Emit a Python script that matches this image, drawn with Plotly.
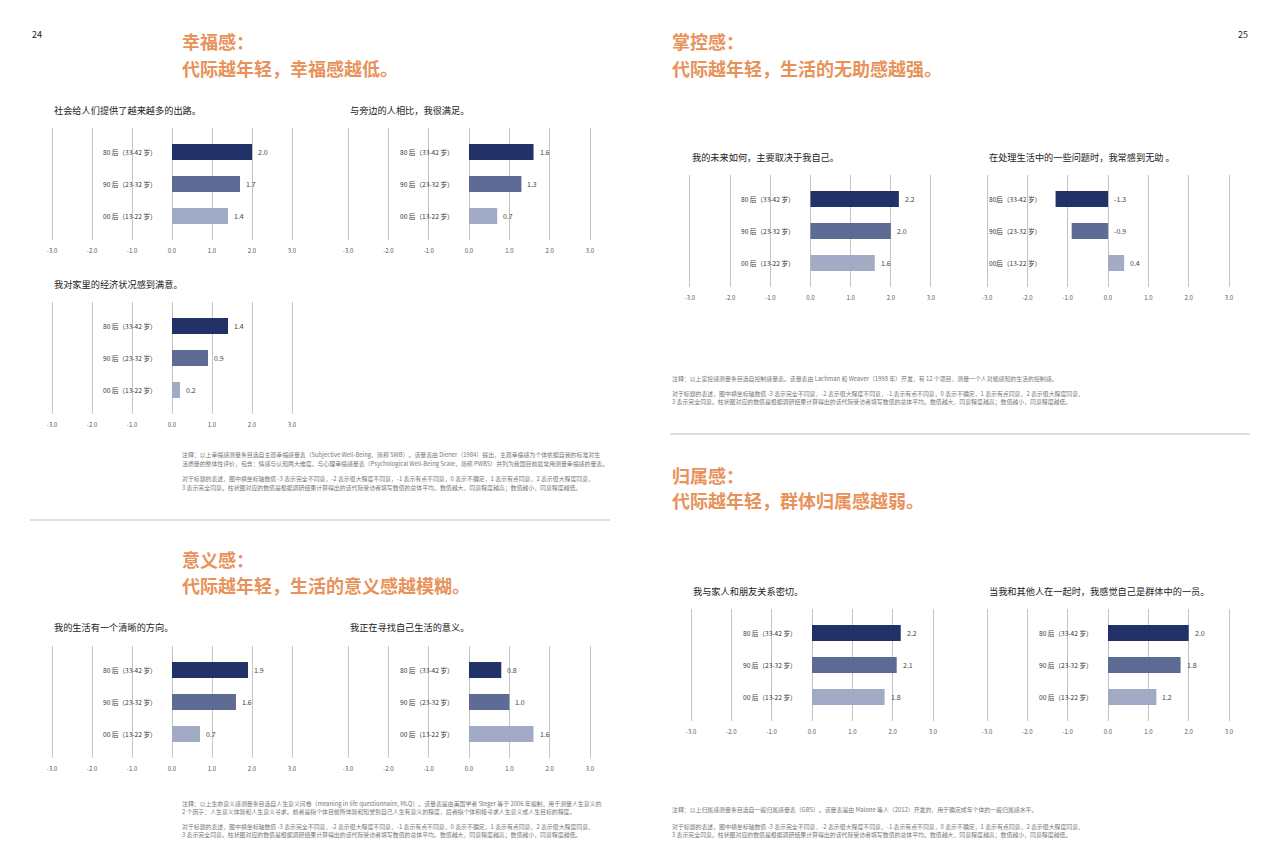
import plotly.graph_objects as go

# ---------------- data ----------------
categories = ["80 后（33-42 岁）", "90 后（23-32 岁）", "00 后（13-22 岁）"]
categories_g = ["80后（33-42 岁）", "90后（23-32 岁）", "00后（13-22 岁）"]

q_more_outlets = [2.0, 1.7, 1.4]
q_satisfied_vs_others = [1.6, 1.3, 0.7]
q_family_finance = [1.4, 0.9, 0.2]
q_clear_direction = [1.9, 1.6, 0.7]
q_seeking_meaning = [0.8, 1.0, 1.6]
q_future_depends_on_me = [2.2, 2.0, 1.6]
q_feel_helpless = [-1.3, -0.9, 0.4]
q_close_family_friends = [2.2, 2.1, 1.8]
q_group_member = [2.0, 1.8, 1.2]

tick_values = [-3, -2, -1, 0, 1, 2, 3]
tick_labels = ["-3.0", "-2.0", "-1.0", "0.0", "1.0", "2.0", "3.0"]

bar_colors = ["#17275f", "#56648f", "#9ea7c2"]

# page body has an 8px margin in the browser; figure is sized to fit the window
OFF = 8
W, H = 1280 - OFF, 868 - OFF
FONT = "Noto Sans CJK SC"
ORANGE = "#e8925a"


def fx(p):
    return (p - OFF) / W


def fy(p):
    return 1 - (p - OFF) / H


panels = [
    dict(title="社会给人们提供了越来越多的出路。", values=q_more_outlets, cats=categories,
         x0=52, x3=292, top=128, bottom=240, ty=110, lab="zero"),
    dict(title="与旁边的人相比，我很满足。", values=q_satisfied_vs_others, cats=categories,
         x0=348, x3=590, top=128, bottom=240, ty=110, lab="zero"),
    dict(title="我对家里的经济状况感到满意。", values=q_family_finance, cats=categories,
         x0=52, x3=292, top=302, bottom=414, ty=284, lab="zero"),
    dict(title="我的生活有一个清晰的方向。", values=q_clear_direction, cats=categories,
         x0=52, x3=292, top=646, bottom=758, ty=627, lab="zero"),
    dict(title="我正在寻找自己生活的意义。", values=q_seeking_meaning, cats=categories,
         x0=348, x3=590, top=646, bottom=758, ty=627, lab="zero"),
    dict(title="我的未来如何，主要取决于我自己。", values=q_future_depends_on_me, cats=categories,
         x0=690, x3=931, top=175, bottom=287, ty=157, lab="zero"),
    dict(title="在处理生活中的一些问题时，我常感到无助 。", values=q_feel_helpless, cats=categories_g,
         x0=987, x3=1229, top=175, bottom=287, ty=157, lab="left"),
    dict(title="我与家人和朋友关系密切。", values=q_close_family_friends, cats=categories,
         x0=691, x3=933, top=609, bottom=721, ty=591, lab="zero"),
    dict(title="当我和其他人在一起时，我感觉自己是群体中的一员。", values=q_group_member, cats=categories,
         x0=987, x3=1229, top=609, bottom=721, ty=591, lab="zero"),
]

fig = go.Figure()
annotations = []
shapes = []
layout_axes = {}

PAD = 0.15
for i, p in enumerate(panels):
    n = i + 1
    xs = "" if n == 1 else str(n)
    u = (p["x3"] - p["x0"]) / 6.0
    dom_x = [fx(p["x0"] - PAD * u), fx(p["x3"] + PAD * u)]
    dom_y = [fy(p["bottom"]), fy(p["top"])]
    ypos = list(range(len(p["cats"])))
    fig.add_trace(go.Bar(
        x=p["values"], y=ypos, orientation="h",
        marker=dict(color=bar_colors, line=dict(width=0)),
        opacity=0.95, width=0.5, hoverinfo="skip", showlegend=False,
        xaxis="x" + xs, yaxis="y" + xs,
    ))
    layout_axes["xaxis" + xs] = dict(
        domain=dom_x, range=[-3 - PAD, 3 + PAD], anchor="y" + xs,
        tickmode="array", tickvals=tick_values, ticktext=tick_labels,
        showgrid=True, gridcolor="#c4c4c4", gridwidth=1.3,
        zeroline=False, showline=False,
        ticks="outside", ticklen=5, tickcolor="rgba(0,0,0,0)",
        tickfont=dict(family=FONT, size=6, color="#555555"),
        fixedrange=True,
    )
    layout_axes["yaxis" + xs] = dict(
        domain=dom_y, range=[2.75, -0.75], anchor="x" + xs,
        showgrid=False, zeroline=False, showline=False,
        showticklabels=False, ticks="", fixedrange=True,
    )
    # panel title
    annotations.append(dict(
        xref="paper", yref="paper", x=fx(p["x0"]), y=fy(p["ty"]),
        xanchor="left", yanchor="middle", showarrow=False,
        text=p["title"], font=dict(family=FONT, size=9.2, color="#222222"),
    ))
    # category labels and value labels
    for j, (c, v) in enumerate(zip(p["cats"], p["values"])):
        if p["lab"] == "zero":
            annotations.append(dict(
                xref="x" + xs, yref="y" + xs, x=0, y=j, xanchor="right", yanchor="middle",
                xshift=-13, showarrow=False, text=c,
                font=dict(family=FONT, size=6.6, color="#333333"),
            ))
        else:
            annotations.append(dict(
                xref="x" + xs, yref="y" + xs, x=-3, y=j, xanchor="left", yanchor="middle",
                showarrow=False, text=c,
                font=dict(family=FONT, size=6.6, color="#333333"),
            ))
        annotations.append(dict(
            xref="x" + xs, yref="y" + xs, x=max(v, 0), y=j, xanchor="left", yanchor="middle",
            xshift=4, showarrow=False, text=f"{v:.1f}",
            font=dict(family=FONT, size=7, color="#444444"),
        ))

# ---------------- headings ----------------
headings = [
    (180, 41, "幸福感："), (180, 68, "代际越年轻，幸福感越低。"),
    (180, 559, "意义感："), (180, 585, "代际越年轻，生活的意义感越模糊。"),
    (670, 41, "掌控感："), (670, 68, "代际越年轻，生活的无助感越强。"),
    (670, 475, "归属感："), (670, 500, "代际越年轻，群体归属感越弱。"),
]
for x, y, t in headings:
    annotations.append(dict(
        xref="paper", yref="paper", x=fx(x), y=fy(y), xanchor="left", yanchor="middle",
        showarrow=False, text="<b>" + t + "</b>",
        font=dict(family=FONT, size=18, color=ORANGE),
    ))

# page numbers
annotations.append(dict(xref="paper", yref="paper", x=fx(30), y=fy(35), xanchor="left",
                        yanchor="middle", showarrow=False, text="24",
                        font=dict(family=FONT, size=9, color="#222222")))
annotations.append(dict(xref="paper", yref="paper", x=fx(1250), y=fy(35), xanchor="right",
                        yanchor="middle", showarrow=False, text="25",
                        font=dict(family=FONT, size=9, color="#222222")))

# ---------------- notes ----------------
scale_l1 = "对于标题的表述，图中横坐标轴数值 -3 表示完全不同意，-2 表示很大程度不同意，-1 表示有点不同意，0 表示不确定，1 表示有点同意，2 表示很大程度同意，"
scale_l2 = "3 表示完全同意。柱状图对应的数值是根据调研结果计算得出的该代际受访者填写数值的总体平均。数值越大，同意程度越高；数值越小，同意程度越低。"

notes = [
    (180, [
        (454, "注释：以上幸福感测量条目选自主观幸福感量表（Subjective Well-Being，简称 SWB）。该量表由 Diener（1984）提出，主观幸福感为个体依据自我的标准对生"),
        (463, "活质量的整体性评价，包含：情感与认知两大维度。与心理幸福感量表（Psychological Well-Being Scale，简称 PWBS）并列为我国目前最常用测量幸福感的量表。"),
        (478, scale_l1), (487, scale_l2)]),
    (180, [
        (803, "注释：以上生命意义感测量条目选自人生意义问卷（meaning in life questionnaire, MLQ）。该量表是由美国学者 Steger 等于 2006 年编制，用于测量人生意义的"),
        (811, "2 个因子：人生意义体验和人生意义寻求。前者是指个体目前所体验和知觉到自己人生有意义的程度，后者指个体积极寻求人生意义或人生目标的程度。"),
        (826, scale_l1), (834, scale_l2)]),
    (670, [
        (378, "注释：以上掌控感测量条目选自控制感量表。该量表由 Lachman 和 Weaver（1998 年）开发，有 12 个项目，测量一个人对能感知的生活的控制感。"),
        (393, scale_l1), (401, scale_l2)]),
    (670, [
        (809, "注释：以上归属感测量条目选自一般归属感量表（GBS）。该量表是由 Malone 等人（2012）开发的，用于确定成年个体的一般归属感水平。"),
        (826, scale_l1), (834, scale_l2)]),
]
for x, lines in notes:
    for y, t in lines:
        annotations.append(dict(
            xref="paper", yref="paper", x=fx(x), y=fy(y), xanchor="left", yanchor="middle",
            showarrow=False, text=t, font=dict(family=FONT, size=5.9, color="#777777"),
        ))

# separators
shapes.append(dict(type="line", xref="paper", yref="paper", x0=fx(30), x1=fx(610),
                   y0=fy(520), y1=fy(520), line=dict(color="#bdbdbd", width=1)))
shapes.append(dict(type="line", xref="paper", yref="paper", x0=fx(670), x1=fx(1250),
                   y0=fy(434), y1=fy(434), line=dict(color="#bdbdbd", width=1)))

fig.update_layout(
    width=W, height=H, margin=dict(l=0, r=0, t=0, b=0),
    paper_bgcolor="white", plot_bgcolor="white",
    font=dict(family=FONT), bargap=0.5,
    annotations=annotations, shapes=shapes, showlegend=False,
    **layout_axes,
)

fig.write_html("out.html", config={"displayModeBar": False})
